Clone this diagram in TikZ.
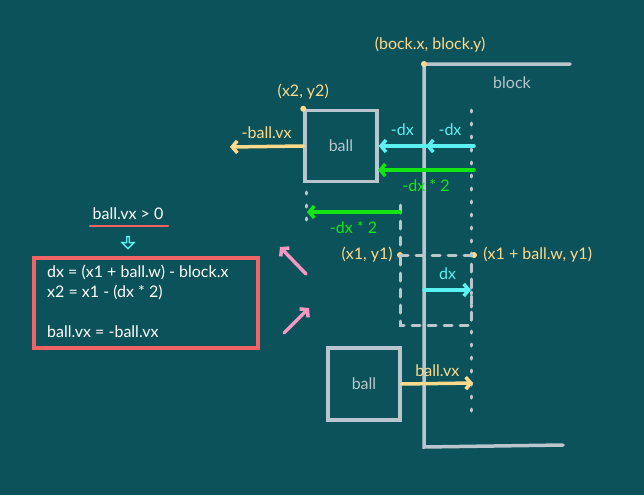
\documentclass[tikz,border=0pt]{standalone}
\usepackage{fontspec}
\setmainfont{Lato}
\usetikzlibrary{arrows.meta,shapes.arrows,positioning}
\definecolor{board}{HTML}{0C525A}
\definecolor{edge}{HTML}{B9C6CE}
\definecolor{yel}{HTML}{FFDA8C}
\definecolor{cyn}{HTML}{5CF2F2}
\definecolor{grn}{HTML}{14E614}
\definecolor{pnk}{HTML}{F596C3}
\definecolor{rd}{HTML}{F06464}

\begin{document}
\begin{tikzpicture}
[x=1pt,y=-1pt,font=\fontsize{16}{20}\selectfont,
wall/.style={draw=edge,line width=3.5pt,line cap=round},
ghost/.style={draw=edge,line width=3pt,line cap=round,dash pattern=on 8pt off 8pt},
track/.style={draw=edge,line width=3pt,line cap=round,dash pattern=on 2pt off 11pt},
move/.style={line width=3.5pt,line cap=round,-{Straight Barb[length=5pt,width=12pt,line width=3.5pt]}},
dot/.style={circle,fill=yel,inner sep=0pt,minimum size=6pt},
lbl/.style={text=yel,inner sep=1pt},
]
\fill[board] (0,0) rectangle (644,495);
\useasboundingbox (0,0) rectangle (644,495);

% the block
\coordinate (BT) at (424,64);
\coordinate (BR) at (570,64);
\coordinate (BB) at (424,447);
\coordinate (BE) at (563,445);
\draw[wall] (BR) -- (BT) -- (BB) -- (BE);
\node[dot] (bd) at (BT){};
\node[lbl] (bl) at (430,45){(bock.x, block.y)};
\node[text=edge] (bn) at (512,83){block};

% path of the right edge
\coordinate (R1) at (471,110);
\coordinate (R2) at (471,420);
\draw[track] (R1) -- (R2);

% ball after the bounce
\node[draw=edge,line width=3.5pt,minimum width=72pt,minimum height=71pt,text=edge] (ball2) at (341,146){ball};
\node[dot] (d2) at (ball2.north west){};
\node[lbl,above=5pt of d2] (l2){(x2, y2)};
\coordinate (L1) at (306,192);
\coordinate (L2) at (306,228);
\draw[track] (L1) -- (L2);
\coordinate (M1) at (400,205);
\coordinate (M2) at (400,250);
\draw[ghost] (M1) -- (M2);

% ball overlapping the block
\node[dot] (d1) at (400,255){};
\node[dot] (d3) at (474,255){};
\draw[ghost] (d1.center) -- (471,255) -- (471,325) -- (400,325) -- cycle;
\node[lbl,left=3pt of d1] (l1){(x1, y1)};
\node[lbl,right=5pt of d3] (l3){(x1 + ball.w, y1)};

% ball before the bounce
\node[draw=edge,line width=3.5pt,minimum width=72pt,minimum height=72pt,text=edge] (ball1) at (364,384){ball};

% arrows
\coordinate (vA) at (ball2.west);
\coordinate (vB) at (230,147);
\draw[move,yel] (vA) -- (vB) node[midway,above=5pt,lbl]{-ball.vx};
\coordinate (cA) at (474,146);
\coordinate (cB) at (426,146);
\coordinate (cC) at (ball2.east);
\draw[move,cyn] (cA) -- (cB) node[midway,above=5pt,text=cyn]{-dx};
\draw[move,cyn] (cB) -- (cC) node[midway,above=5pt,text=cyn]{-dx};
\coordinate (gA) at (474,170);
\coordinate (gB) at (378,170);
\draw[move,grn] (gA) -- (gB) node[midway,below=4pt,text=grn]{-dx * 2};
\coordinate (hA) at (400,212);
\coordinate (hB) at (307,212);
\draw[move,grn] (hA) -- (hB) node[midway,below=4pt,text=grn]{-dx * 2};
\coordinate (xA) at (424,290);
\coordinate (xB) at (471,290);
\draw[move,cyn] (xA) -- (xB) node[midway,above=5pt,text=cyn]{dx};
\coordinate (yA) at (ball1.east);
\coordinate (yB) at (473,383);
\draw[move,yel] (yA) -- (yB) node[midway,above=4pt,lbl]{ball.vx};

% pink hints
\coordinate (p1) at (306,274);
\coordinate (p2) at (280,247);
\coordinate (p3) at (284,333);
\coordinate (p4) at (309,308);
\draw[move,pnk] (p1) -- (p2);
\draw[move,pnk] (p3) -- (p4);

% the rule
\node[text=white] (cond) at (128,214){ball.vx > 0};
\coordinate (u1) at (90,226);
\coordinate (u2) at (168,226);
\draw[rd,line width=2.5pt,line cap=round] (u1) -- (u2);
\node[single arrow,draw=cyn,line width=1.3pt,rotate=-90,minimum height=12pt,minimum width=12pt,single arrow head extend=2.5pt,inner sep=0pt] (down) at (128,242){};
\node[draw=rd,line width=3.5pt,minimum width=224pt,minimum height=90pt] (rule) at (146,303){};
\node[text=white,align=left,anchor=north west,inner sep=0pt] (code) at (47,265){dx = (x1 + ball.w) - block.x\\x2 = x1 - (dx * 2)\\[20pt]ball.vx = -ball.vx};
\end{tikzpicture}
\end{document}
